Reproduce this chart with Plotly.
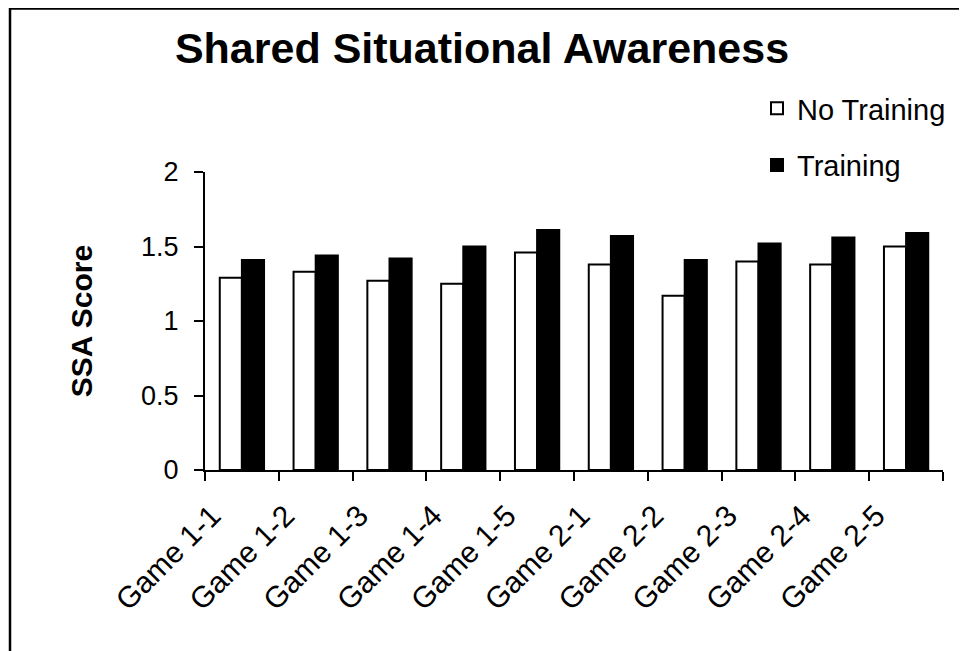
import plotly.graph_objects as go

categories = ["Game 1-1", "Game 1-2", "Game 1-3", "Game 1-4", "Game 1-5",
              "Game 2-1", "Game 2-2", "Game 2-3", "Game 2-4", "Game 2-5"]
no_training = [1.29, 1.33, 1.27, 1.25, 1.46, 1.38, 1.17, 1.40, 1.38, 1.50]
training = [1.41, 1.44, 1.42, 1.50, 1.61, 1.57, 1.41, 1.52, 1.56, 1.59]
y_ticks = [0, 0.5, 1, 1.5, 2]
y_tick_text = ["0", "0.5", "1", "1.5", "2"]

FONT = "Arial, 'Liberation Sans', sans-serif"

# page body adds an 8px offset; figure sized to fit the window
OFF = 8
W, H = 959, 643
L, R, T, B = 197, 24, 164, 181
PW, PH = W - L - R, H - T - B

def px_x(p):  # screen px -> paper
    return (p - OFF - L) / PW

def px_y(p):
    return (H - B - (p - OFF)) / PH

fig = go.Figure()
fig.add_trace(go.Bar(
    x=categories, y=no_training, name="No Training",
    marker=dict(color="white", line=dict(color="black", width=2)),
    legendgroup="a",
))
fig.add_trace(go.Bar(
    x=categories, y=training, name="Training",
    marker=dict(color="black", line=dict(color="black", width=2)),
    legendgroup="b",
))

# outer border (left and top edges)
fig.add_shape(
    type="path", xref="paper", yref="paper",
    path=f"M {px_x(10)},{px_y(670)} L {px_x(10)},{px_y(8.6)} L {px_x(980)},{px_y(8.6)}",
    line=dict(color="black", width=2.5),
)

fig.update_layout(
    width=W, height=H,
    margin=dict(l=L, r=R, t=T, b=B),
    paper_bgcolor="white", plot_bgcolor="white",
    font=dict(family=FONT, color="black", size=27),
    title=dict(text="<b>Shared Situational Awareness</b>",
               x=(482 - OFF) / W, xref="container", xanchor="center",
               y=1 - (48 - OFF) / H, yref="container", yanchor="middle",
               font=dict(size=43, family=FONT, color="black")),
    barmode="group", bargap=0.4, bargroupgap=0,
    showlegend=True,
    legend=dict(x=px_x(757), xanchor="left", y=px_y(83), yanchor="top",
                traceorder="grouped", tracegroupgap=16,
                font=dict(size=29, family=FONT, color="black"),
                bgcolor="rgba(0,0,0,0)"),
    xaxis=dict(showline=True, linecolor="black", linewidth=2,
               ticks="outside", tickson="boundaries", ticklen=9,
               tickwidth=2, tickcolor="black", tickangle=-45,
               showgrid=False, zeroline=False,
               ticklabelshift=-30, ticklabelstandoff=14,
               tickfont=dict(size=30, family=FONT, color="black")),
    yaxis=dict(range=[0, 2], tickvals=y_ticks, ticktext=y_tick_text,
               showline=True, linecolor="black", linewidth=2,
               ticks="outside", ticklen=9, tickwidth=2, tickcolor="black",
               showgrid=False, zeroline=False,
               ticklabelstandoff=10,
               tickfont=dict(size=27, family=FONT, color="black"),
               title=dict(text="<b>SSA Score</b>", standoff=40,
                          font=dict(size=30, family=FONT, color="black"))),
)

fig.write_html("out.html")
